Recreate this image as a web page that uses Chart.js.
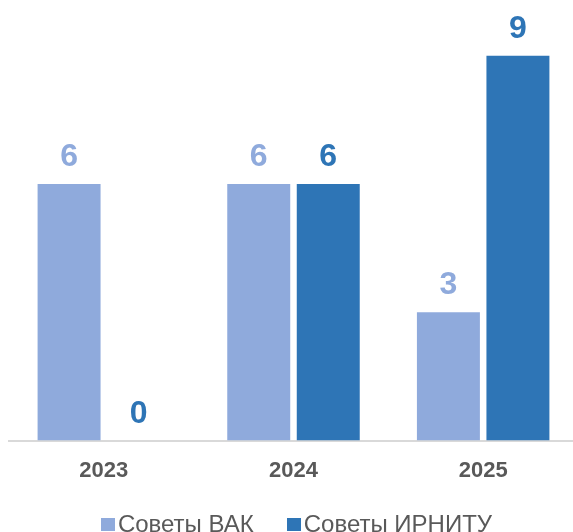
<!DOCTYPE html>
<html>
<head>
<meta charset="utf-8">
<script src="https://cdn.jsdelivr.net/npm/chart.js@4/dist/chart.umd.min.js"></script>
<style>
  html, body { margin: 0; padding: 0; background: #fff; overflow: hidden; }
  #wrap { position: relative; width: 578px; height: 516px; }
  #legend {
    position: absolute; left: 10px; top: 512px; width: 573px; height: 24px; line-height: 24px;
    display: flex; justify-content: center; align-items: center;
    font-family: Arial, "Liberation Sans", sans-serif; font-size: 24px; color: #595959;
    white-space: nowrap;
  }
  #legend span.item { display: flex; align-items: center; margin: 0 16.5px; }
  #legend span.box { display: inline-block; width: 14px; height: 13px; margin-right: 3px; }
</style>
</head>
<body>
<div id="wrap"><canvas id="myChart" width="578" height="516"></canvas></div>
<div id="legend"></div>
<script>
const years = ['2023', '2024', '2025'];
const seriesNames = ['Советы ВАК', 'Советы ИРНИТУ'];
const vak = [6, 6, 3];
const irnitu = [0, 6, 9];
const colors = ['#8FAADC', '#2E75B6'];

// value labels above the bars
const valueLabels = {
  id: 'valueLabels',
  afterDatasetsDraw(chart) {
    const ctx = chart.ctx;
    ctx.save();
    ctx.font = 'bold 32px Arial, "Liberation Sans", sans-serif';
    ctx.textAlign = 'center';
    ctx.textBaseline = 'alphabetic';
    chart.data.datasets.forEach((ds, i) => {
      chart.getDatasetMeta(i).data.forEach((bar, j) => {
        ctx.fillStyle = colors[i];
        ctx.fillText(String(ds.data[j]), bar.x, bar.y - 18);
      });
    });
    ctx.restore();
  }
};

new Chart(document.getElementById('myChart'), {
  type: 'bar',
  data: {
    labels: years,
    datasets: [
      { label: seriesNames[0], data: vak, backgroundColor: colors[0], borderWidth: 0 },
      { label: seriesNames[1], data: irnitu, backgroundColor: colors[1], borderWidth: 0 }
    ]
  },
  options: {
    responsive: false,
    animation: false,
    devicePixelRatio: 1,
    categoryPercentage: 0.733,
    barPercentage: 0.906,
    layout: { padding: { left: 9, right: 0, top: 13, bottom: 15 } },
    plugins: { legend: { display: false }, tooltip: { enabled: false } },
    scales: {
      x: {
        grid: { display: false, drawTicks: false },
        border: { display: true, color: '#D9D9D9', width: 2 },
        ticks: {
          padding: 17,
          color: '#595959',
          font: { family: 'Arial, "Liberation Sans", sans-serif', size: 22, weight: 'bold' }
        }
      },
      y: { display: false, min: 0, max: 10 }
    }
  },
  plugins: [valueLabels]
});

const legend = document.getElementById('legend');
seriesNames.forEach((name, i) => {
  const item = document.createElement('span');
  item.className = 'item';
  const box = document.createElement('span');
  box.className = 'box';
  box.style.background = colors[i];
  item.appendChild(box);
  item.appendChild(document.createTextNode(name));
  legend.appendChild(item);
});
</script>
</body>
</html>
